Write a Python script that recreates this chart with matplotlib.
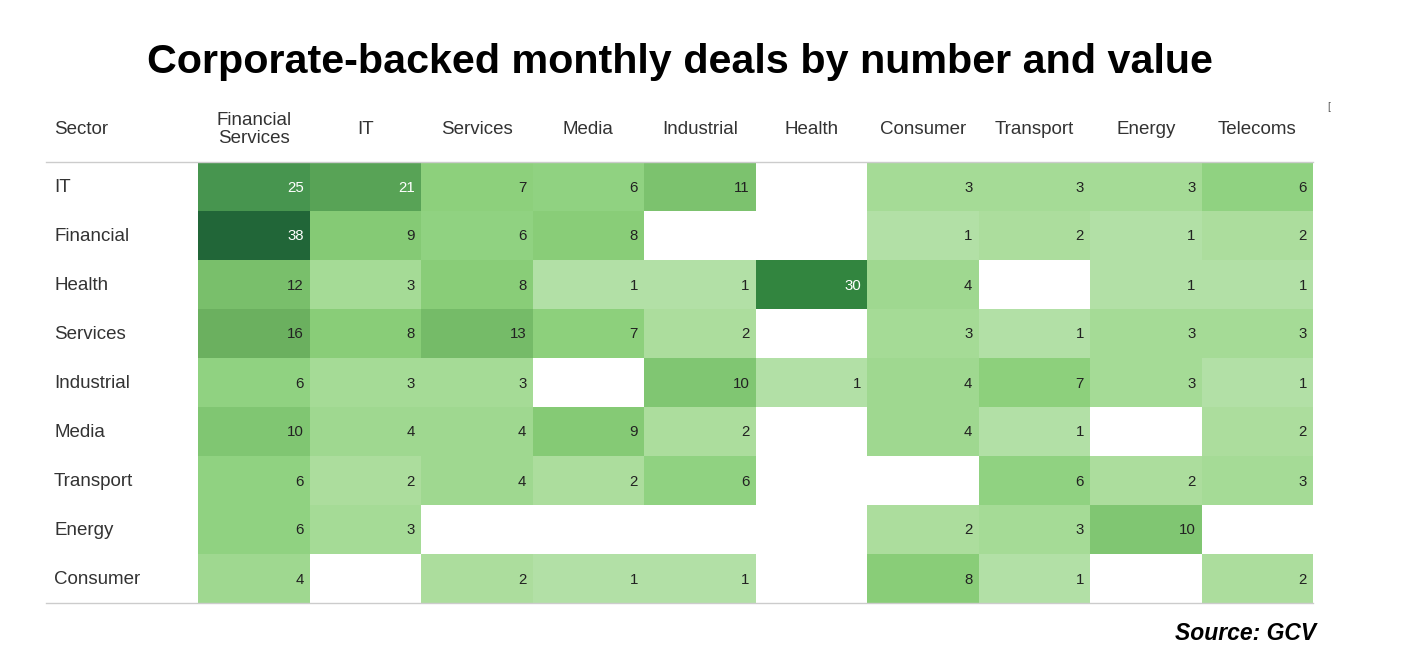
import numpy as np
import matplotlib
matplotlib.use("Agg")
import matplotlib.pyplot as plt
from matplotlib.colors import LinearSegmentedColormap, Normalize
from matplotlib.transforms import blended_transform_factory, ScaledTranslation

plt.rcParams['font.family'] = ['Liberation Sans', 'DejaVu Sans']

# ---- data ----
title = "Corporate-backed monthly deals by number and value"
source = "Source: GCV"
row_header = "Sector"
rows = ["IT", "Financial", "Health", "Services", "Industrial", "Media",
        "Transport", "Energy", "Consumer"]
columns = ["Financial\nServices", "IT", "Services", "Media", "Industrial",
           "Health", "Consumer", "Transport", "Energy", "Telecoms"]
N = np.nan
deals_IT         = [25, 21, 7, 6, 11, N, 3, 3, 3, 6]
deals_Financial  = [38, 9, 6, 8, N, N, 1, 2, 1, 2]
deals_Health     = [12, 3, 8, 1, 1, 30, 4, N, 1, 1]
deals_Services   = [16, 8, 13, 7, 2, N, 3, 1, 3, 3]
deals_Industrial = [6, 3, 3, N, 10, 1, 4, 7, 3, 1]
deals_Media      = [10, 4, 4, 9, 2, N, 4, 1, N, 2]
deals_Transport  = [6, 2, 4, 2, 6, N, N, 6, 2, 3]
deals_Energy     = [6, 3, N, N, N, N, 2, 3, 10, N]
deals_Consumer   = [4, N, 2, 1, 1, N, 8, 1, N, 2]

values = np.array([deals_IT, deals_Financial, deals_Health, deals_Services,
                   deals_Industrial, deals_Media, deals_Transport,
                   deals_Energy, deals_Consumer], dtype=float)

# ---- colour scale (style) ----
vmin, vmax = 1, 38
anchors = [(1, "#b2e0a6"), (2, "#abdd9c"), (3, "#a4db95"), (4, "#9ed890"),
           (6, "#90d280"), (8, "#89cd78"), (10, "#80c672"), (12, "#79bf6b"),
           (16, "#6bb05f"), (21, "#58a356"), (25, "#47954f"), (30, "#32853f"),
           (38, "#216638")]
cmap = LinearSegmentedColormap.from_list(
    "gcv", [((v - vmin) / (vmax - vmin), c) for v, c in anchors])
norm = Normalize(vmin=vmin, vmax=vmax)

W, H = 1412, 667
fig = plt.figure(figsize=(W / 100, H / 100), dpi=100)

left, right, top, bottom = 198, 1313, 162, 603
ax = fig.add_axes([left / W, 1 - bottom / H, (right - left) / W, (bottom - top) / H])
nr, nc = values.shape
masked = np.ma.masked_invalid(values)
ax.pcolormesh(np.arange(nc + 1), np.arange(nr + 1), masked, cmap=cmap, norm=norm,
              shading="flat")
ax.set_xlim(0, nc)
ax.set_ylim(nr, 0)
ax.axis("off")

# cell values
off = ScaledTranslation(-6 / 100, -1 / 100, fig.dpi_scale_trans)
for i in range(nr):
    for j in range(nc):
        v = values[i, j]
        if np.isnan(v):
            continue
        col = "white" if v >= 20 else "#222222"
        ax.text(j + 1, i + 0.5, f"{int(v)}", ha="right", va="center",
                fontsize=10.8, color=col, transform=ax.transData + off)

# row labels
bt = blended_transform_factory(fig.transFigure, ax.transData)
roff = ScaledTranslation(0, -1 / 100, fig.dpi_scale_trans)
for i, r in enumerate(rows):
    ax.text(54 / W, i + 0.5, r, ha="left", va="center", fontsize=13.5,
            color="#333333", transform=bt + roff, clip_on=False)

# column headers
bt2 = blended_transform_factory(ax.transData, fig.transFigure)
hy = 1 - 129.5 / H
for j, c in enumerate(columns):
    ax.text(j + 0.5, hy, c, ha="center", va="center", fontsize=13.5,
            color="#333333", transform=bt2, clip_on=False, linespacing=1.1)
fig.text(54 / W, hy, row_header, ha="left", va="center", fontsize=13.5,
         color="#333333")

# rules
for y in (top, bottom):
    fig.add_artist(plt.Line2D([46 / W, right / W], [1 - y / H, 1 - y / H],
                              color="#cccccc", lw=1.0))

fig.text(680 / W, 1 - 62 / H, title, ha="center", va="center",
         fontsize=29.7, fontweight="bold", color="black")
fig.text(1316 / W, 1 - 633 / H, source, ha="right", va="center",
         fontsize=16.5, fontweight="bold", fontstyle="italic", color="black")
fig.text(1327 / W, 1 - 107 / H, "[", ha="left", va="center", fontsize=7,
         color="#555555")

fig.savefig("out.png", dpi=100)
